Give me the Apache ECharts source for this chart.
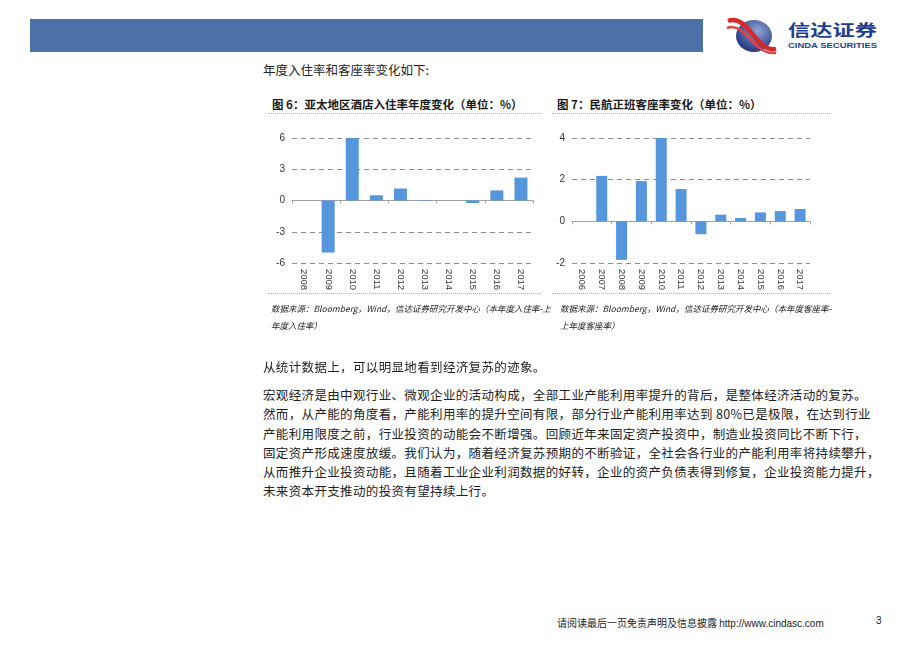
<!DOCTYPE html>
<html>
<head>
<meta charset="utf-8">
<script src="https://cdn.jsdelivr.net/npm/echarts@6/dist/echarts.min.js"></script>
<style>
  html, body { margin: 0; padding: 0; background: #fff; }
  body { width: 920px; height: 651px; position: relative; overflow: hidden;
         font-family: "Noto Sans CJK SC", "DejaVu Sans", sans-serif; color: #222; }
  .abs { position: absolute; white-space: nowrap; }
  .band { left: 30px; top: 19px; width: 673px; height: 33px; background: #4d70a6; }
  .intro { left: 263px; top: 60px; font-size: 12.5px; }
  .title { font-size: 11.5px; font-weight: bold; color: #1a1a1a; }
  .dots { height: 0; border-top: 1px dotted #9fb3cc; }
  .src { font-size: 8.5px; font-style: italic; color: #222; line-height: 17px; }
  .para { left: 263px; font-size: 12.5px; line-height: 19.3px; letter-spacing: 0.35px; }
  .chart { position: absolute; width: 285px; height: 180px; }
  .foot { top: 615px; font-size: 10px; color: #222; }
</style>
</head>
<body>
<div class="abs band"></div>
<svg class="abs" style="left:722px;top:12px" width="165" height="44" viewBox="0 0 165 44">
  <defs>
    <radialGradient id="ball" cx="0.6" cy="0.35" r="0.7">
      <stop offset="0" stop-color="#8fa6d8"/>
      <stop offset="1" stop-color="#1d2f7a"/>
    </radialGradient>
  </defs>
  <ellipse cx="32" cy="24" rx="18" ry="16" fill="url(#ball)"/>
  <path d="M6 9 C17 5 25 15 32 24 C39 33 46 39 54 37" stroke="#d42a2a" stroke-width="4.5" fill="none"/>
  <path d="M5 16 C15 12 24 22 30 29 C36 36 44 42 54 41" stroke="#e04545" stroke-width="2.5" fill="none"/>
  <text x="66" y="24" font-size="16" font-weight="bold" fill="#1e3e92" textLength="89" lengthAdjust="spacingAndGlyphs" font-family="Noto Sans CJK SC">信达证券</text>
  <text x="66" y="36" font-size="7" font-weight="bold" fill="#1e3e92" textLength="89" lengthAdjust="spacingAndGlyphs" font-family="Liberation Sans">CINDA SECURITIES</text>
</svg>

<div class="abs intro">年度入住率和客座率变化如下:</div>

<div class="abs title" style="left:272px;top:96px">图 6：亚太地区酒店入住率年度变化（单位：%）</div>
<div class="abs dots" style="left:268px;top:113px;width:272px"></div>
<div class="abs title" style="left:557px;top:96px">图 7：民航正班客座率变化（单位：%）</div>
<div class="abs dots" style="left:552px;top:113px;width:278px"></div>

<div id="c1" class="chart" style="left:262px;top:120px"></div>
<div id="c2" class="chart" style="left:552px;top:120px"></div>

<div class="abs dots" style="left:268px;top:293px;width:272px"></div>
<div class="abs src" style="left:271px;top:300px">数据来源：Bloomberg，Wind，信达证券研究开发中心（本年度入住率-上<br>年度入住率）</div>
<div class="abs dots" style="left:552px;top:293px;width:278px"></div>
<div class="abs src" style="left:560px;top:300px">数据来源：Bloomberg，Wind，信达证券研究开发中心（本年度客座率-<br>上年度客座率）</div>

<div class="abs para" style="top:357px">从统计数据上，可以明显地看到经济复苏的迹象。</div>
<div class="abs para" style="top:385px">宏观经济是由中观行业、微观企业的活动构成，全部工业产能利用率提升的背后，是整体经济活动的复苏。<br>然而，从产能的角度看，产能利用率的提升空间有限，部分行业产能利用率达到 80%已是极限，在达到行业<br>产能利用限度之前，行业投资的动能会不断增强。回顾近年来固定资产投资中，制造业投资同比不断下行，<br>固定资产形成速度放缓。我们认为，随着经济复苏预期的不断验证，全社会各行业的产能利用率将持续攀升，<br>从而推升企业投资动能，且随着工业企业利润数据的好转，企业的资产负债表得到修复，企业投资能力提升，<br>未来资本开支推动的投资有望持续上行。</div>

<div class="abs foot" style="left:557px">请阅读最后一页免责声明及信息披露 <span style="font-family:'Liberation Sans'">http://www.cindasc.com</span></div>
<div class="abs foot" style="left:876px;font-family:'Liberation Sans'">3</div>

<script>
// 图6：亚太地区酒店入住率年度变化
const hotelYears = ['2008', '2009', '2010', '2011', '2012', '2013', '2014', '2015', '2016', '2017'];
const hotelChange = [0, -5.0, 6.0, 0.5, 1.15, 0.05, 0, -0.25, 0.97, 2.2];
const hotelTicks = [-6, -3, 0, 3, 6];

// 图7：民航正班客座率变化
const airYears = ['2006', '2007', '2008', '2009', '2010', '2011', '2012', '2013', '2014', '2015', '2016', '2017'];
const airChange = [0, 2.18, -1.85, 1.93, 4.0, 1.55, -0.62, 0.32, 0.16, 0.43, 0.49, 0.59];
const airTicks = [-2, 0, 2, 4];

const barColor = '#5596dc';

function buildOption(years, values, ticks, gridLeft, gridWidth, barWidth) {
  const step = ticks[1] - ticks[0];
  return {
    animation: false,
    grid: { left: gridLeft, top: 18, width: gridWidth, height: 125 },
    xAxis: [
      {
        // 下方年份标签
        type: 'category',
        data: years,
        position: 'bottom',
        axisLine: { show: false, onZero: false },
        axisTick: { show: false },
        axisLabel: {
          rotate: -90, margin: 6, fontSize: 9.5, color: '#333',
          fontFamily: 'Liberation Sans'
        }
      },
      {
        // 0 轴线
        type: 'category',
        data: years,
        position: 'bottom',
        axisLine: { show: true, onZero: true, lineStyle: { color: '#a0a0a0', width: 1 } },
        axisTick: { show: true, length: 3, lineStyle: { color: '#a0a0a0' } },
        axisLabel: { show: false }
      }
    ],
    yAxis: {
      type: 'value',
      min: ticks[0],
      max: ticks[ticks.length - 1],
      interval: step,
      axisLine: { show: false },
      axisTick: { show: false },
      axisLabel: {
        margin: 7, fontSize: 10, color: '#333', fontFamily: 'Liberation Sans'
      },
      splitLine: { lineStyle: { color: '#8c8c8c', type: [5, 4], width: 1 } }
    },
    series: [{
      type: 'bar',
      xAxisIndex: 0,
      data: values,
      barWidth: barWidth,
      itemStyle: { color: barColor }
    }]
  };
}

const chart1 = echarts.init(document.getElementById('c1'));
chart1.setOption(buildOption(hotelYears, hotelChange, hotelTicks, 30, 241, 13));

const chart2 = echarts.init(document.getElementById('c2'));
chart2.setOption(buildOption(airYears, airChange, airTicks, 20, 238, 11));
</script>
</body>
</html>
